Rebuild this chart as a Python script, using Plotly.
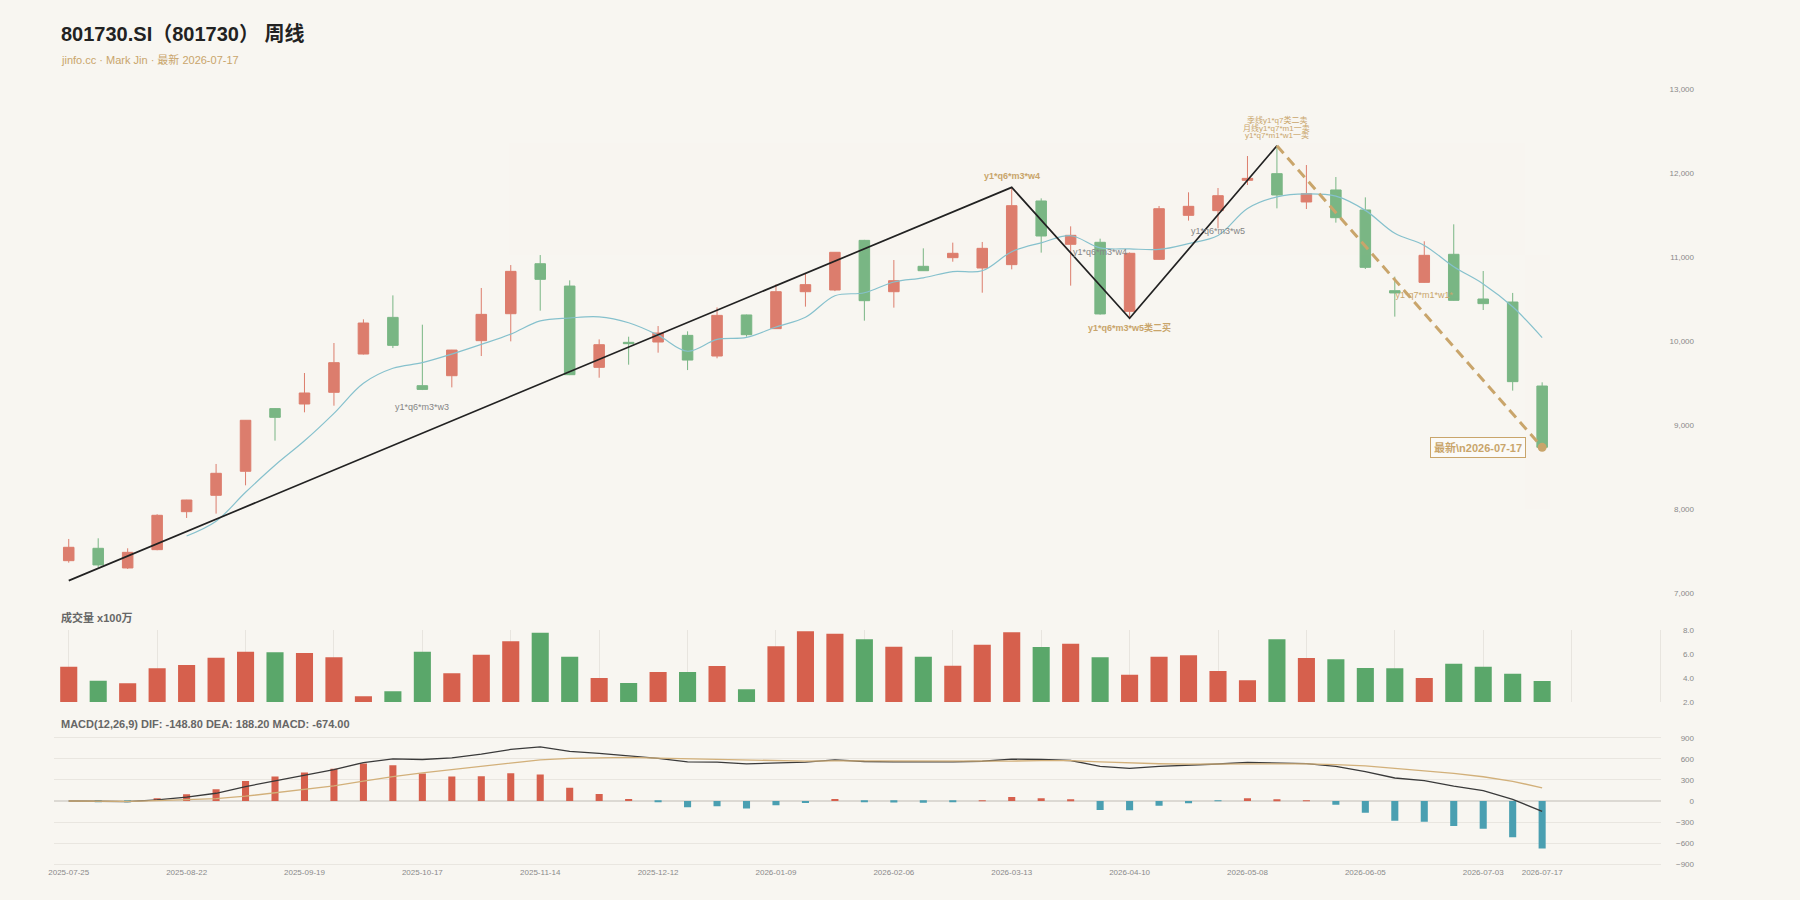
import plotly.graph_objects as go

# ---------------- data ----------------
dates = ["2025-07-25", "2025-08-01", "2025-08-08", "2025-08-15", "2025-08-22", "2025-08-29",
         "2025-09-05", "2025-09-12", "2025-09-19", "2025-09-26", "2025-10-03", "2025-10-10",
         "2025-10-17", "2025-10-24", "2025-10-31", "2025-11-07", "2025-11-14", "2025-11-21",
         "2025-11-28", "2025-12-05", "2025-12-12", "2025-12-19", "2025-12-26", "2026-01-02",
         "2026-01-09", "2026-01-16", "2026-01-23", "2026-01-30", "2026-02-06", "2026-02-13",
         "2026-02-27", "2026-03-06", "2026-03-13", "2026-03-20", "2026-03-27", "2026-04-03",
         "2026-04-10", "2026-04-17", "2026-04-24", "2026-05-01", "2026-05-08", "2026-05-15",
         "2026-05-22", "2026-05-29", "2026-06-05", "2026-06-12", "2026-06-19", "2026-06-26",
         "2026-07-03", "2026-07-10", "2026-07-17"]

open_ = [7391, 7538, 7304, 7522, 7974, 8169, 8455, 9201, 9256, 9395, 9851, 10287, 9474, 9593,
         10010, 10331, 10926, 10660, 9692, 9990, 9994, 10073, 9827, 10316, 10153, 10593, 10613,
         11204, 10593, 10895, 10998, 10875, 10915, 11673, 11157, 11181, 10359, 10978, 11502,
         11558, 11919, 11998, 11661, 11804, 11566, 10605, 10704, 11038, 10506, 10470, 9470]
high = [7649, 7657, 7538, 7943, 8115, 8542, 9065, 9205, 9625, 9982, 10264, 10549, 10200, 9900,
        10637, 10910, 11029, 10728, 10025, 10057, 10184, 10121, 10406, 10320, 10681, 10812, 11065,
        11210, 10970, 11109, 11177, 11185, 11835, 11704, 11371, 11224, 11060, 11613, 11776,
        11827, 12208, 12331, 12101, 11958, 11716, 10772, 11193, 11395, 10839, 10578, 9514]
low = [7367, 7312, 7292, 7515, 7899, 7951, 8288, 8820, 9157, 9236, 9845, 9922, 9422, 9454,
       9827, 10002, 10367, 9600, 9569, 9724, 9867, 9660, 9800, 10058, 10150, 10415, 10600,
       10248, 10403, 10840, 10950, 10581, 10859, 11058, 10665, 10320, 10276, 10975, 11439,
       11347, 11863, 11585, 11577, 11415, 10863, 10296, 10700, 10485, 10375, 9415, 8735]
close = [7550, 7340, 7490, 7931, 8113, 8431, 9062, 9097, 9387, 9748, 10220, 9954, 9430, 9898,
         10323, 10835, 10740, 9605, 9962, 9974, 10101, 9779, 10311, 10081, 10593, 10677, 11062,
         10486, 10724, 10843, 11050, 11109, 11617, 11256, 11264, 10328, 11050, 11581, 11609,
         11736, 11942, 11744, 11760, 11474, 10883, 10578, 11026, 10490, 10451, 9522, 8740]

ma5 = [None, None, None, None, 7685, 7861, 8205, 8527, 8818, 9145, 9503, 9681, 9748, 9850,
       9965, 10088, 10245, 10280, 10293, 10223, 10076, 9884, 10025, 10049, 10173, 10288, 10545,
       10580, 10708, 10758, 10833, 10842, 11069, 11175, 11259, 11115, 11103, 11096, 11166,
       11261, 11584, 11722, 11758, 11731, 11561, 11288, 11144, 10890, 10686, 10413, 10046]

volume = [4.94, 3.78, 3.56, 4.81, 5.08, 5.69, 6.19, 6.14, 6.08, 5.72, 2.47, 2.89, 6.19, 4.39,
          5.94, 7.06, 7.78, 5.78, 4.00, 3.58, 4.50, 4.50, 5.00, 3.06, 6.64, 7.89, 7.69, 7.22,
          6.61, 5.78, 5.03, 6.78, 7.81, 6.58, 6.86, 5.72, 4.28, 5.78, 5.89, 4.58, 3.81, 7.22,
          5.67, 5.56, 4.83, 4.81, 4.00, 5.19, 4.94, 4.36, 3.75]

dif = [0, -10, -10, 15, 55, 110, 205, 286, 367, 447, 547, 600, 590, 614, 666, 733, 771, 705,
       676, 643, 605, 557, 552, 528, 543, 552, 585, 562, 557, 552, 555, 565, 595, 590, 576, 493,
       464, 493, 507, 526, 549, 545, 531, 493, 417, 327, 289, 213, 147, 24, -148.8]
dea = [0, -2, -4, 5, 18, 35, 68, 119, 160, 216, 284, 348, 400, 448, 495, 545, 585, 605, 616,
       620, 610, 600, 588, 577, 571, 567, 571, 570, 567, 563, 560, 561, 568, 573, 574, 556, 540,
       530, 525, 525, 530, 532, 528, 518, 500, 465, 432, 393, 345, 280, 188.2]
macd_hist = [0, -12, -10, 38, 95, 167, 286, 347, 405, 457, 533, 509, 390, 347, 352, 395, 376,
             190, 100, 29, -10, -90, -76, -105, -62, -29, 29, -19, -22, -24, -8, 3, 57, 38, 12,
             -128, -133, -66, -33, -3, 38, 24, 9, -52, -166, -280, -294, -355, -393, -516, -674]

# zigzag (笔) pivots: index positions and prices
zz_idx = [0, 32, 36, 41]
zz_price = [7153, 11835, 10276, 12331]
proj_idx = [41, 50]
proj_price = [12331, 8740]

tick_idx = [0, 4, 8, 12, 16, 20, 24, 28, 32, 36, 40, 44, 48, 50]
tick_text = [dates[i] for i in tick_idx]

# ---------------- style ----------------
BG = "#f8f6f1"
RED = "#d6604d"
GREEN = "#5aa76a"
BLUE = "#4a9fb1"
TAN = "#c9a56b"
GRAY_TXT = "#858585"
AX_TXT = "#8a8a8a"
FONT = "Liberation Sans, Noto Sans CJK SC, sans-serif"

x = list(range(len(dates)))
XR = [-0.5, 54.04]
XDOM = [54 / 1800, 1661.2 / 1800]


def yfrac(px):
    return 1 - px / 900


fig = go.Figure()

# label drawn beneath candles
fig.add_trace(go.Scatter(x=[46], y=[10545], mode="text", text=["y1*q7*m1*w1*"],
                         textfont=dict(size=9, color=TAN, family=FONT),
                         xaxis="x", yaxis="y", hoverinfo="skip"))

fig.add_trace(go.Candlestick(
    x=x, open=open_, high=high, low=low, close=close,
    increasing=dict(line=dict(color=RED, width=1), fillcolor=RED),
    decreasing=dict(line=dict(color=GREEN, width=1), fillcolor=GREEN),
    opacity=0.8, whiskerwidth=0, xaxis="x", yaxis="y"))

fig.add_trace(go.Scatter(x=x, y=ma5, mode="lines",
                         line=dict(color="#86c1cd", width=1.2, shape="spline"),
                         xaxis="x", yaxis="y"))

fig.add_trace(go.Scatter(x=zz_idx, y=zz_price, mode="lines",
                         line=dict(color="#222222", width=1.7), xaxis="x", yaxis="y"))

fig.add_trace(go.Scatter(x=proj_idx, y=proj_price, mode="lines",
                         line=dict(color=TAN, width=3, dash="10px,6px"),
                         xaxis="x", yaxis="y"))

fig.add_trace(go.Scatter(x=[proj_idx[-1]], y=[proj_price[-1]], mode="markers",
                         marker=dict(color=TAN, size=9), xaxis="x", yaxis="y"))

vol_colors = [RED if c >= o else GREEN for o, c in zip(open_, close)]
fig.add_trace(go.Bar(x=x, y=volume, width=0.58, marker=dict(color=vol_colors, line=dict(width=0)),
                     xaxis="x2", yaxis="y2"))

hist_colors = [RED if v >= 0 else BLUE for v in macd_hist]
fig.add_trace(go.Bar(x=x, y=macd_hist, width=0.24, marker=dict(color=hist_colors, line=dict(width=0)),
                     xaxis="x3", yaxis="y3"))
fig.add_trace(go.Scatter(x=x, y=dif, mode="lines", line=dict(color="#3a3a3a", width=1.3),
                         xaxis="x3", yaxis="y3"))
fig.add_trace(go.Scatter(x=x, y=dea, mode="lines", line=dict(color="#d2b07a", width=1.3),
                         xaxis="x3", yaxis="y3"))

# right-aligned labels: left-side axis placed at the right of the plot
yaxis_common = dict(side="left", anchor="free", position=1694 / 1800, ticklabelposition="outside",
                    tickfont=dict(size=8, color=AX_TXT, family=FONT), ticks="",
                    showline=False, automargin=False, fixedrange=True)

fig.update_layout(
    width=1800, height=900, autosize=False,
    margin=dict(l=0, r=0, t=0, b=0),
    paper_bgcolor=BG, plot_bgcolor=BG,
    showlegend=False, boxgap=0.49,
    font=dict(family=FONT),
    xaxis=dict(domain=XDOM, range=XR, anchor="y", showticklabels=False, showgrid=False,
               zeroline=False, rangeslider=dict(visible=False), automargin=False),
    xaxis2=dict(domain=XDOM, range=XR, anchor="y2", tickvals=list(range(0, 55, 3)),
                showticklabels=False, showgrid=True, gridcolor="#e8e5df", gridwidth=1,
                zeroline=False, ticks="", automargin=False),
    xaxis3=dict(domain=XDOM, range=XR, anchor="y3", tickmode="array", tickvals=tick_idx,
                ticktext=tick_text, showgrid=False, zeroline=False, ticks="",
                tickfont=dict(size=8, color=AX_TXT, family=FONT), automargin=False),
    yaxis=dict(domain=[yfrac(593.5), yfrac(89.5)], range=[7000, 13000], dtick=1000,
               tickformat=",", showgrid=False, zeroline=False, **yaxis_common),
    yaxis2=dict(domain=[yfrac(702), yfrac(630)], range=[2, 8], dtick=2, tickformat=".1f",
                showgrid=False, zeroline=False, **yaxis_common),
    yaxis3=dict(domain=[yfrac(865.7), yfrac(736.3)], range=[-920, 920], tickmode="array",
                tickvals=[-900, -600, -300, 0, 300, 600, 900],
                showgrid=True, gridcolor="#e9e6e0", gridwidth=1,
                zeroline=True, zerolinecolor="#dcd9d3", zerolinewidth=2, **yaxis_common),
)

ann = []
# headers
ann.append(dict(xref="paper", yref="paper", x=59 / 1800, y=yfrac(33.5), xanchor="left", yanchor="middle",
                text="<b>801730.SI（801730） 周线</b>", showarrow=False,
                font=dict(size=20, color="#222222", family=FONT)))
ann.append(dict(xref="paper", yref="paper", x=59 / 1800, y=yfrac(59), xanchor="left", yanchor="middle",
                text="jinfo.cc · Mark Jin · 最新 2026-07-17", showarrow=False,
                font=dict(size=11, color=TAN, family=FONT)))
ann.append(dict(xref="paper", yref="paper", x=59 / 1800, y=yfrac(617.3), xanchor="left", yanchor="middle",
                text="<b>成交量 x100万</b>", showarrow=False,
                font=dict(size=11, color="#666666", family=FONT)))
ann.append(dict(xref="paper", yref="paper", x=59 / 1800, y=yfrac(724.3), xanchor="left", yanchor="middle",
                text="<b>MACD(12,26,9) DIF: -148.80 DEA: 188.20 MACD: -674.00</b>", showarrow=False,
                font=dict(size=11, color="#666666", family=FONT)))

# chart labels (data coordinates)
labels = [
    (12, 9224, "y1*q6*m3*w3", GRAY_TXT, 9, False),
    (32, 11974, "y1*q6*m3*w4", TAN, 9, True),
    (35, 11069, "y1*q6*m3*w4", GRAY_TXT, 9, False),
    (36, 10167, "y1*q6*m3*w5类二买", TAN, 9, True),
    (39, 11319, "y1*q6*m3*w5", GRAY_TXT, 9, False),
    (41, 12639, "季线y1*q7类二卖", TAN, 8, False),
    (41, 12544, "月线y1*q7*m1一卖", TAN, 8, False),
    (41, 12449, "y1*q7*m1*w1一卖", TAN, 8, False),
]
for lx, ly, txt, col, sz, bold in labels:
    ann.append(dict(xref="x", yref="y", x=lx, y=ly, xanchor="center", yanchor="middle",
                    text=f"<b>{txt}</b>" if bold else txt, showarrow=False,
                    font=dict(size=sz, color=col, family=FONT)))

ann.append(dict(xref="x", yref="y", x=proj_idx[-1], y=proj_price[-1], xanchor="right", yanchor="middle",
                xshift=-16, text="<b>最新\\n2026-07-17</b>", showarrow=False,
                bordercolor=TAN, borderwidth=1, borderpad=3, bgcolor="rgba(255,255,255,0.45)",
                font=dict(size=11, color=TAN, family=FONT)))

fig.update_layout(annotations=ann)

fig.write_html("out.html")
